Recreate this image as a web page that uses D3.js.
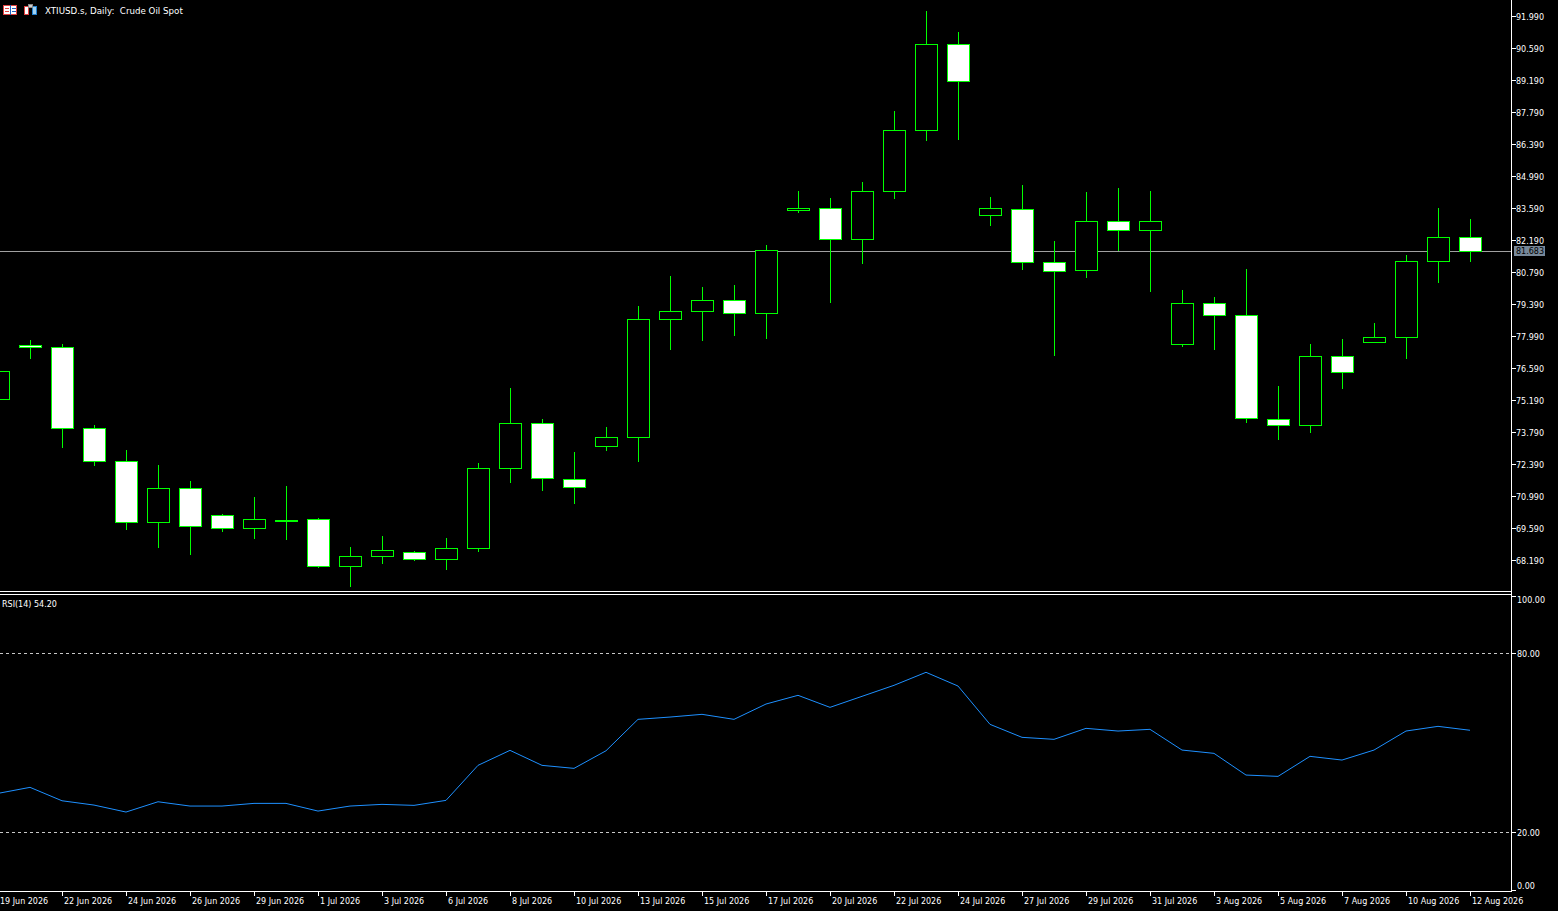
<!DOCTYPE html>
<html>
<head>
<meta charset="utf-8">
<title>XTIUSD.s Daily</title>
<script src="https://d3js.org/d3.v7.min.js"></script>
<style>
  html, body { margin: 0; padding: 0; background: #000; overflow: hidden; }
  svg { display: block; }
  text { font-family: "DejaVu Sans", sans-serif; fill: #fff; white-space: pre; }
</style>
</head>
<body>
<svg width="1558" height="911"></svg>
<script>
// daily bars, oldest first
const opens  = [75.25,77.58,77.51,73.95,72.51,69.84,71.33,70.15,69.58,69.96,69.97,67.91,68.35,68.53,68.22,68.70,72.20,74.17,71.75,73.15,73.54,78.72,79.07,79.55,78.98,83.49,83.58,82.22,84.32,86.99,90.75,83.27,83.53,81.21,80.86,83.01,82.61,77.63,79.42,78.90,74.35,74.08,77.10,77.71,77.93,81.26,82.31];
const highs  = [76.60,77.82,77.64,74.10,73.00,72.35,71.65,70.20,70.95,71.43,70.03,68.76,69.24,68.58,69.15,72.43,75.72,74.36,72.92,74.01,79.30,80.62,80.13,80.22,81.97,84.33,84.03,84.73,87.83,92.21,91.29,84.07,84.60,82.15,84.29,84.47,84.33,80.00,79.70,80.92,75.80,77.64,77.86,78.56,81.53,83.59,83.11];
const lows   = [75.10,77.00,73.10,72.32,69.52,68.73,68.42,69.43,69.12,69.08,67.85,67.02,68.03,68.15,67.77,68.55,71.57,71.22,70.65,72.96,72.49,77.39,77.78,78.00,77.87,83.38,79.45,81.15,84.00,86.53,86.58,82.82,80.89,77.13,80.54,81.71,79.93,77.52,77.39,74.20,73.45,73.76,75.68,77.67,77.00,80.32,81.24];
const closes = [76.46,77.50,73.95,72.51,69.84,71.33,69.66,69.58,69.97,69.92,67.91,68.35,68.61,68.22,68.70,72.20,74.17,71.75,71.40,73.56,78.72,79.07,79.55,78.98,81.74,83.58,82.22,84.32,86.99,90.75,89.13,83.58,81.21,80.82,83.01,82.61,83.01,79.42,78.90,74.39,74.08,77.10,76.40,77.93,81.26,82.31,81.683];
const rsi14  = [33.05,35.07,30.57,29.13,26.79,30.24,28.80,28.80,29.70,29.70,27.12,28.80,29.37,29.03,30.71,42.44,47.47,42.44,41.43,47.33,57.86,58.63,59.54,57.86,62.99,65.91,61.88,65.57,69.26,73.62,69.02,56.18,51.83,51.16,54.84,53.94,54.51,47.57,46.46,39.19,38.75,45.46,44.22,47.57,53.94,55.51,54.20];

// time axis labels, one every second bar
const dateLabels = ["19 Jun 2026","22 Jun 2026","24 Jun 2026","26 Jun 2026","29 Jun 2026","1 Jul 2026","3 Jul 2026","6 Jul 2026","8 Jul 2026","10 Jul 2026","13 Jul 2026","15 Jul 2026","17 Jul 2026","20 Jul 2026","22 Jul 2026","24 Jul 2026","27 Jul 2026","29 Jul 2026","31 Jul 2026","3 Aug 2026","5 Aug 2026","7 Aug 2026","10 Aug 2026","12 Aug 2026"];
const priceTicks = [91.99,90.59,89.19,87.79,86.39,84.99,83.59,82.19,80.79,79.39,77.99,76.59,75.19,73.79,72.39,70.99,69.59,68.19];
const rsiTicks = [100,80,20,0];
const rsiLevels = [80,20];
const bid = 81.683;

const svg = d3.select("svg");
const W = 1558, axisX = 1511;
const mainBottom = 592, rsiTop = 594, rsiBottom = 892;
const green = "#00ff00";

const x = d3.scaleLinear().domain([0, opens.length - 1]).range([-2, 1470]);
const y = d3.scaleLinear().domain([68.19, 91.99]).range([560, 16]);
const yr = d3.scaleLinear().domain([0, 100]).range([892, 593.6]);
const bw = 22;

svg.append("rect").attr("width", W).attr("height", 911).attr("fill", "#000");

const defs = svg.append("defs");
defs.append("clipPath").attr("id", "clipMain").append("rect")
    .attr("x", 0).attr("y", 0).attr("width", axisX).attr("height", mainBottom);
defs.append("clipPath").attr("id", "clipRsi").append("rect")
    .attr("x", 0).attr("y", rsiTop).attr("width", axisX).attr("height", rsiBottom - rsiTop);

// ---- main pane
const main = svg.append("g").attr("clip-path", "url(#clipMain)").attr("shape-rendering", "crispEdges");

main.append("line")
    .attr("x1", 0).attr("x2", axisX)
    .attr("y1", Math.round(y(bid)) - 0.5).attr("y2", Math.round(y(bid)) - 0.5)
    .attr("stroke", "#a0a0a0").attr("stroke-width", 1);

const bars = main.selectAll("g.bar").data(opens).enter().append("g").attr("class", "bar");

bars.append("line")
    .attr("x1", (d, i) => Math.round(x(i)) + 0.5)
    .attr("x2", (d, i) => Math.round(x(i)) + 0.5)
    .attr("y1", (d, i) => Math.round(y(highs[i])))
    .attr("y2", (d, i) => Math.round(y(lows[i])))
    .attr("stroke", green);

bars.append("rect")
    .attr("x", (d, i) => Math.round(x(i)) - bw / 2 + 0.5)
    .attr("width", bw)
    .attr("y", (d, i) => Math.round(y(Math.max(d, closes[i]))) + 0.5)
    .attr("height", (d, i) => Math.max(1, Math.round(Math.abs(y(d) - y(closes[i])))))
    .attr("fill", (d, i) => closes[i] < d ? "#fff" : "#000")
    .attr("stroke", green);

// pane borders
const frame = svg.append("g").attr("shape-rendering", "crispEdges").attr("stroke", "#fff");
frame.append("line").attr("x1", axisX + 0.5).attr("x2", axisX + 0.5).attr("y1", 0).attr("y2", rsiBottom);
frame.append("line").attr("x1", 0).attr("x2", axisX).attr("y1", mainBottom - 0.5).attr("y2", mainBottom - 0.5);
frame.append("line").attr("x1", 0).attr("x2", axisX).attr("y1", rsiTop + 0.5).attr("y2", rsiTop + 0.5);
frame.append("line").attr("x1", 0).attr("x2", axisX + 1).attr("y1", rsiBottom - 0.5).attr("y2", rsiBottom - 0.5);

// price axis
const pAxis = svg.append("g");
pAxis.selectAll("line").data(priceTicks).enter().append("line")
    .attr("shape-rendering", "crispEdges")
    .attr("x1", axisX).attr("x2", axisX + 5)
    .attr("y1", d => Math.round(y(d)) + 0.5).attr("y2", d => Math.round(y(d)) + 0.5)
    .attr("stroke", "#fff");
pAxis.selectAll("text").data(priceTicks).enter().append("text")
    .attr("x", axisX + 5).attr("y", d => y(d) + 3.5)
    .attr("font-size", 8)
    .text(d => d3.format(".3f")(d));

// bid label
svg.append("rect").attr("x", 1514).attr("y", Math.round(y(bid)) - 6)
    .attr("width", 31).attr("height", 10).attr("fill", "#778899");
svg.append("text").attr("x", 1516).attr("y", y(bid) + 2.5)
    .attr("font-size", 8).style("fill", "#000").text(d3.format(".3f")(bid));

// ---- RSI pane
const rp = svg.append("g").attr("clip-path", "url(#clipRsi)");
rp.selectAll("line.lvl").data(rsiLevels).enter().append("line").attr("class", "lvl")
    .attr("shape-rendering", "crispEdges")
    .attr("x1", 0).attr("x2", axisX)
    .attr("y1", d => Math.round(yr(d)) + 0.5).attr("y2", d => Math.round(yr(d)) + 0.5)
    .attr("stroke", "#c8c8c8").attr("stroke-dasharray", "3,3");

rp.append("path").datum(rsi14)
    .attr("d", d3.line().x((d, i) => x(i)).y(d => yr(d)))
    .attr("fill", "none").attr("stroke", "#1e90ff").attr("stroke-width", 1);

const rAxis = svg.append("g");
rAxis.selectAll("line").data(rsiTicks).enter().append("line")
    .attr("shape-rendering", "crispEdges")
    .attr("x1", axisX).attr("x2", axisX + 5)
    .attr("y1", d => Math.round(Math.min(Math.max(yr(d), rsiTop + 2), rsiBottom - 2)) + 0.5)
    .attr("y2", d => Math.round(Math.min(Math.max(yr(d), rsiTop + 2), rsiBottom - 2)) + 0.5)
    .attr("stroke", "#fff");
rAxis.selectAll("text").data(rsiTicks).enter().append("text")
    .attr("x", axisX + 6)
    .attr("y", d => d === 100 ? 603 : d === 0 ? 889 : yr(d) + 3.5)
    .attr("font-size", 8)
    .text(d => d3.format(".2f")(d));

svg.append("text").attr("x", 2).attr("y", 607).attr("font-size", 8)
    .text("RSI(14) " + d3.format(".2f")(rsi14[rsi14.length - 1]));

// ---- time axis
const tAxis = svg.append("g");
tAxis.selectAll("line").data(dateLabels).enter().append("line")
    .attr("shape-rendering", "crispEdges")
    .attr("x1", (d, i) => Math.round(x(i * 2)) + 0.5).attr("x2", (d, i) => Math.round(x(i * 2)) + 0.5)
    .attr("y1", rsiBottom).attr("y2", rsiBottom + 4)
    .attr("stroke", "#fff");
tAxis.selectAll("text").data(dateLabels).enter().append("text")
    .attr("x", (d, i) => x(i * 2) + 2).attr("y", 904)
    .attr("font-size", 8)
    .text(d => d);

// ---- header
const ic = svg.append("g").attr("shape-rendering", "crispEdges");
ic.append("rect").attr("x", 3.5).attr("y", 5.5).attr("width", 13).attr("height", 9).attr("fill", "#fff").attr("stroke", "#e04040");
ic.append("line").attr("x1", 10.5).attr("x2", 10.5).attr("y1", 5).attr("y2", 15).attr("stroke", "#2060c0");
[8.5, 11.5].forEach(v => {
  ic.append("line").attr("x1", 5).attr("x2", 9).attr("y1", v).attr("y2", v).attr("stroke", "#e04040");
  ic.append("line").attr("x1", 12).attr("x2", 16).attr("y1", v).attr("y2", v).attr("stroke", "#2060c0");
});
ic.append("rect").attr("x", 24.5).attr("y", 6.5).attr("width", 4).attr("height", 8).attr("fill", "#fff").attr("stroke", "#e04040");
ic.append("rect").attr("x", 32.5).attr("y", 6.5).attr("width", 4).attr("height", 8).attr("fill", "#a0d0f0").attr("stroke", "#2080d0");
ic.append("rect").attr("x", 28.5).attr("y", 4.5).attr("width", 4).attr("height", 3).attr("fill", "#ccc").attr("stroke", "#888");

svg.append("text").attr("x", 45).attr("y", 14).attr("font-size", 8.7)
    .text("XTIUSD.s, Daily:  Crude Oil Spot");
</script>
</body>
</html>
